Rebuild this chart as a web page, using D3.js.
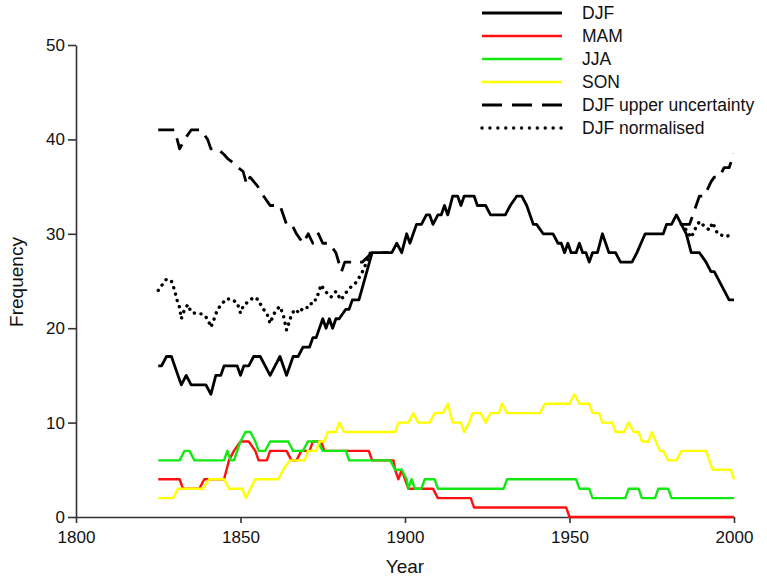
<!DOCTYPE html>
<html>
<head>
<meta charset="utf-8">
<script src="https://cdn.jsdelivr.net/npm/d3@7"></script>
<style>
  body { margin: 0; background: #fff; }
  svg { display: block; font-family: "Liberation Sans", Arial, sans-serif; }
</style>
</head>
<body>
<div class="chart-div"></div>
<script>
//--------------------------- Data ([year, frequency])

var djf = [[1825,16],[1826,16],[1827.5,17],[1829,17],[1832,14],[1833.5,15],[1835,14],[1839.5,14],[1841,13],[1842.5,15],
  [1844,15],[1845,16],[1849,16],[1850,15],[1851,16],[1852.5,16],[1854,17],[1856,17],[1857.5,16],[1859,15],[1860.5,16],
  [1862,17],[1864,15],[1866,17],[1867.5,17],[1869,18],[1871,18],[1872,19],[1873,19],[1875,21],[1876,20],[1877,21],
  [1878,20],[1879,21],[1880,21],[1882,22],[1883,22],[1884,23],[1886,23],[1890,28],[1896,28],[1897.5,29],[1899,28],
  [1900.5,30],[1901.5,29],[1902.5,30],[1903.5,31],[1905,31],[1906.5,32],[1907.5,32],[1908.5,31],[1910,32],[1911,32],
  [1912,33],[1913,32],[1914.5,34],[1916,34],[1917,33],[1918,34],[1921,34],[1922,33],[1924.5,33],[1926,32],[1930.5,32],
  [1932,33],[1934,34],[1935.5,34],[1937,33],[1939,31],[1940,31],[1942,30],[1945,30],[1946.5,29],[1947.5,29],[1948.5,28],
  [1949.5,29],[1950.5,28],[1952,28],[1953,29],[1954,28],[1955,28],[1956,27],[1957,28],[1958.5,28],[1960,30],[1961,29],
  [1962,28],[1964,28],[1965.5,27],[1969,27],[1970.5,28],[1973,30],[1978.5,30],[1979.5,31],[1981,31],[1982.5,32],[1984,31],
  [1985.5,30],[1987,28],[1989.5,28],[1991.5,27],[1993,26],[1994,26],[1997,24],[1998.5,23],[2000,23]];

var mam = [[1825,4],[1831.5,4],[1832.5,3],[1837.5,3],[1839,4],[1845,4],[1846.5,6],[1848,7],[1850,8],[1852.5,8],
  [1854.5,7],[1855.5,6],[1858,6],[1859,7],[1864,7],[1865.5,6],[1867,6],[1868.5,7],[1871,7],[1872,8],[1874.5,8],
  [1875.5,7],[1889,7],[1890,6],[1896.5,6],[1897,5],[1898,4],[1899,5],[1901,3],[1908.5,3],[1910,2],[1920,2],[1921,1],
  [1949,1],[1950,0],[2000,0]];

var jja = [[1825,6],[1831.5,6],[1833,7],[1834.5,7],[1836,6],[1845,6],[1846,7],[1847,6],[1848,6],[1850,8],[1851.5,9],
  [1853,9],[1854.5,8],[1855.5,7],[1857.5,7],[1859,8],[1864.5,8],[1866,7],[1869,7],[1870.5,8],[1873.5,8],[1875,7],
  [1882,7],[1883,6],[1895.5,6],[1897,5],[1899,5],[1900.5,4],[1901,3],[1902,4],[1903,3],[1905,3],[1906,4],[1909,4],
  [1910,3],[1930,3],[1931,4],[1952,4],[1953,3],[1956,3],[1957,2],[1967,2],[1968,3],[1971,3],[1972,2],[1976,2],
  [1977,3],[1980,3],[1981,2],[2000,2]];

var son = [[1825,2],[1829.5,2],[1831,3],[1838.5,3],[1840.5,4],[1845,4],[1846.5,3],[1850.5,3],[1851.7,2],[1853,3],
  [1854.5,4],[1861.5,4],[1863,5],[1865,6],[1869.5,6],[1870.5,7],[1873,7],[1874,8],[1875.5,8],[1876.5,9],[1879,9],
  [1880,10],[1881.5,9],[1897,9],[1898,10],[1901,10],[1902.5,11],[1904,10],[1907.5,10],[1909,11],[1911.5,11],[1913,12],
  [1914.5,10],[1917,10],[1918,9],[1919.5,10],[1920.5,11],[1923,11],[1924.5,10],[1926,11],[1928.5,11],[1929.5,12],
  [1931,11],[1941,11],[1942.5,12],[1950,12],[1951.5,13],[1953,12],[1956,12],[1957,11],[1959,11],[1960,10],[1963,10],
  [1964,9],[1966.5,9],[1968,10],[1969.5,9],[1971,9],[1972,8],[1974,8],[1975,9],[1977.5,7],[1978.5,7],[1980,6],
  [1982.5,6],[1984,7],[1991.5,7],[1993.5,5],[1999,5],[2000,4]];

// upper uncertainty and normalised follow DJF between ~1890 and ~1984 (null = gap)
var djfUpper = [[1825,41],[1830,41],[1831.5,39],[1833,40],[1835,41],[1838,41],[1840,40],[1841,39],[1843,39],[1845,38.4],
  [1846,38],[1847.5,37.6],[1849.3,37],[1850.8,36.6],[1851.9,35.2],[1852.9,36],[1855.3,35],[1857,34],[1859,33],[1862,33],
  [1864,31],[1865.6,31],[1867,30],[1869,29],[1870.6,30],[1872,29],[1873.7,30],[1875,29],[1877,29],[1879,28],[1880.7,26],
  [1881.7,27],[1887,27],[1890,28],[1895,28],[1895,null],
  [1984,31],[1986.5,31],[1988.5,33],[1989.5,34],[1991,34],[1993,35.5],[1994,36],[1995.5,36],[1997,37],[1998.5,37],[2000,38.5]];

var djfNorm = [[1825,24],[1826,24.5],[1827.5,25.2],[1829,25],[1830,24],[1830.5,23.2],[1831.5,22.2],[1832,21],[1833,22],
  [1834,22.5],[1835,21.7],[1836,21.6],[1838.5,21.5],[1840,21],[1841,20.1],[1842,21],[1843,22],[1844.5,22.6],[1845.5,23.1],
  [1847,23.1],[1849,22.7],[1850,21.6],[1851,22.5],[1852.5,22.8],[1854,23.3],[1855.5,23],[1856.5,22.2],[1858,21.6],
  [1859,20.5],[1860,21.4],[1861,22],[1862,22.3],[1863,21.4],[1864,19.8],[1865.5,21.4],[1866.5,22],[1868,21.6],
  [1869,22.2],[1871,22.2],[1872,23],[1873,23],[1874.5,24.6],[1875.5,24],[1877.5,23.3],[1879,23.9],[1880.5,23],
  [1883,24.2],[1885,24.8],[1886.5,25.6],[1887.5,26.3],[1889.5,28],[1889.5,null],
  [1984,31],[1985.5,30.4],[1987,29.6],[1988,30.4],[1989.5,31.3],[1991,30.8],[1992.5,30.4],[1993.5,31.2],[1995,30],
  [1997.5,29.7],[2000,30]];

var xTicks = [1800, 1850, 1900, 1950, 2000];
var yTicks = [0, 10, 20, 30, 40, 50];

var seriesNames = ["DJF", "MAM", "JJA", "SON", "DJF upper uncertainty", "DJF normalised"];

//--------------------------- SVG definition

var width = 767;
var height = 576;

var svg = d3.select("div.chart-div")
    .append("svg")
    .attr("width", width)
    .attr("height", height)

var x = d3.scaleLinear().domain([1800, 2000]).range([76, 734]);
var y = d3.scaleLinear().domain([0, 50]).range([517, 45]);

//--------------------------- Series styles

var styles = [
    { data: djf,      color: "#000", width: 2.8, dash: null },
    { data: mam,      color: "#ff1010", width: 2.4, dash: null },
    { data: jja,      color: "#12e812", width: 2.4, dash: null },
    { data: son,      color: "#ffff00", width: 2.4, dash: null },
    { data: djfUpper, color: "#000", width: 2.8, dash: "16,9" },
    { data: djfNorm,  color: "#000", width: 3.4, dash: "0.1,6.5" }
];

var lineGenerator = d3.line()
    .defined(function (d) { return d[1] != null; })
    .x(function (d) { return x(d[0]); })
    .y(function (d) { return y(d[1]); });

//--------------------------- Axes

var xAxis = svg.append("g")
    .attr("transform", "translate(0," + y(0) + ")")
    .call(d3.axisBottom(x).tickValues(xTicks).tickFormat(d3.format("d")).tickSize(6).tickSizeOuter(0));

var yAxis = svg.append("g")
    .attr("transform", "translate(" + x(1800) + ",0)")
    .call(d3.axisLeft(y).tickValues(yTicks).tickSize(8).tickSizeOuter(0));

[xAxis, yAxis].forEach(function (ax) {
    ax.select(".domain").attr("stroke", "#333").attr("stroke-width", 1.6);
    ax.selectAll(".tick line").attr("stroke", "#333").attr("stroke-width", 1.6);
    ax.selectAll(".tick text")
        .attr("font-family", "Liberation Sans, Arial, sans-serif")
        .attr("font-size", 17)
        .style("fill", "#111");
});
xAxis.selectAll(".tick text").attr("dy", "1em");
yAxis.selectAll(".tick text").attr("dx", "0em");

svg.append("text")
    .attr("x", 405)
    .attr("y", 573)
    .attr("text-anchor", "middle")
    .attr("font-size", 19)
    .style("fill", "#111")
    .text("Year");

svg.append("text")
    .attr("transform", "translate(23,282) rotate(-90)")
    .attr("text-anchor", "middle")
    .attr("font-size", 19)
    .style("fill", "#111")
    .text("Frequency");

//--------------------------- Lines (coloured first, black on top)

var drawOrder = [1, 2, 3, 5, 4, 0];

drawOrder.forEach(function (k) {
    var s = styles[k];
    svg.append("path")
        .datum(s.data)
        .attr("d", lineGenerator)
        .attr("fill", "none")
        .attr("stroke", s.color)
        .attr("stroke-width", s.width)
        .attr("stroke-linejoin", "round")
        .attr("stroke-linecap", s.dash && s.dash.indexOf("0.1") == 0 ? "round" : "butt")
        .attr("stroke-dasharray", s.dash);
});

//--------------------------- Legend

var legend = svg.append("g")

for (k = 0; k < seriesNames.length; k++) {
    var s = styles[k];
    var ly = 13 + k * 23;

    legend.append("line")
        .attr("x1", 482)
        .attr("x2", 562)
        .attr("y1", ly)
        .attr("y2", ly)
        .attr("stroke", s.color)
        .attr("stroke-width", s.width)
        .attr("stroke-linecap", s.dash && s.dash.indexOf("0.1") == 0 ? "round" : "butt")
        .attr("stroke-dasharray", s.dash == "16,9" ? "20,10" : (s.dash ? "0.1,7.8" : null));

    legend.append("text")
        .attr("x", 582)
        .attr("y", ly + 6)
        .attr("font-size", 17.5)
        .style("fill", "#111")
        .text(seriesNames[k]);
}
</script>
</body>
</html>
